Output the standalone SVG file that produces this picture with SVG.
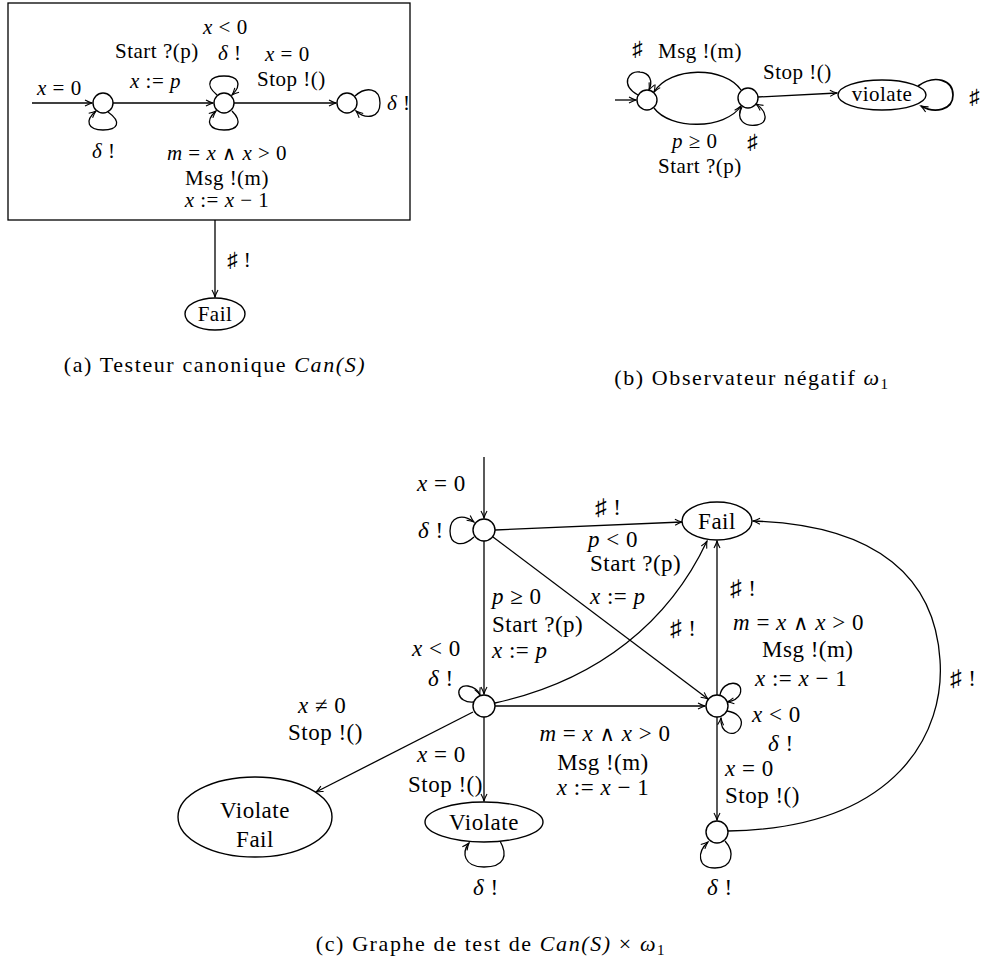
<svg xmlns="http://www.w3.org/2000/svg" width="982" height="960" viewBox="0 0 982 960">
<style>
.t{font-family:"Liberation Serif","DejaVu Serif",serif;font-size:23px;letter-spacing:0.5px;fill:#000}
.s{font-size:21px}
.cap{font-size:22px;letter-spacing:1.6px}
.i{font-style:italic}
.w{font-family:"DejaVu Sans",sans-serif;font-size:0.92em}
.m{text-anchor:middle}
.n{fill:#fff;stroke:#000;stroke-width:1.4}
.e{fill:none;stroke:#000;stroke-width:1.3}
.ea{fill:none;stroke:#000;stroke-width:1.3;marker-end:url(#ah)}
</style>
<defs>
<marker id="ah" viewBox="-8 -4 10 8" refX="0" refY="0" markerWidth="10" markerHeight="8" orient="auto" markerUnits="userSpaceOnUse">
<path d="M-7,-3 Q-3,-0.8 0,0 Q-3,0.8 -7,3" fill="none" stroke="#000" stroke-width="1.1"/>
</marker>
</defs>
<rect x="0" y="0" width="982" height="960" fill="#fff"/>

<!-- (a) -->
<g id="a-box"><rect x="8" y="3" width="402" height="217" class="e"/></g>
<g id="a-connectors">
<path class="ea" d="M32,103 L92,103"/>
<path class="ea" d="M108,112 C122,122 118,130 103,130 C88,130 84,121 96,111"/>
<path class="ea" d="M113,103 L213,103"/>
<path class="ea" d="M217,95 C204,84 210,76 224,76 C238,76 243,84 232,95"/>
<path class="ea" d="M232,111 C243,122 238,130 224,130 C210,130 204,122 216,111"/>
<path class="ea" d="M234,103 L336,103"/>
<path class="ea" d="M355,96 C366,86 380,88 380,103 C380,118 366,120 356,111"/>
<path class="ea" d="M215,220 L215,297"/>
</g>
<g id="a-n1"><circle cx="103" cy="103" r="10" class="n"/></g>
<g id="a-n2"><circle cx="224" cy="103" r="10" class="n"/></g>
<g id="a-n3"><circle cx="347" cy="103" r="10" class="n"/></g>
<g id="a-fail"><ellipse cx="215" cy="314" rx="30" ry="16" class="n"/><text class="t s m" x="215" y="321">Fail</text></g>
<g id="a-labels">
<text class="t s" x="37" y="95"><tspan class="i">x</tspan> = 0</text>
<text class="t s" x="92" y="158"><tspan class="i">δ</tspan> !</text>
<text class="t s" x="115" y="58">Start ?(p)</text>
<text class="t s" x="130" y="88"><tspan class="i">x</tspan> := <tspan class="i">p</tspan></text>
<text class="t s" x="203" y="34"><tspan class="i">x</tspan> &lt; 0</text>
<text class="t s" x="218" y="60"><tspan class="i">δ</tspan> !</text>
<text class="t s" x="265" y="61"><tspan class="i">x</tspan> = 0</text>
<text class="t s" x="257" y="86">Stop !()</text>
<text class="t s" x="387" y="110"><tspan class="i">δ</tspan> !</text>
<text class="t s m" x="227" y="160"><tspan class="i">m</tspan> = <tspan class="i">x</tspan> <tspan class="w">∧</tspan> <tspan class="i">x</tspan> &gt; 0</text>
<text class="t s m" x="227" y="185">Msg !(m)</text>
<text class="t s m" x="227" y="207"><tspan class="i">x</tspan> := <tspan class="i">x</tspan> − 1</text>
<text class="t s" x="227" y="267">♯ !</text>
</g>
<text class="t cap m" x="215" y="372">(a) Testeur canonique <tspan class="i">Can(S)</tspan></text>

<!-- (b) -->
<g id="b-connectors">
<path class="ea" d="M615,100 L636,100"/>
<path class="ea" d="M741,90 C725,66 670,66 654,92"/>
<path class="ea" d="M654,108 C670,130 725,130 741,106"/>
<path class="ea" d="M638,95 C620,85 628,70 640,72 C650,73 653,81 649,90"/>
<path class="ea" d="M742,107 C735,120 745,127 757,125 C768,123 768,112 756,104"/>
<path class="ea" d="M758,97 L837,93"/>
<path class="ea" style="stroke-width:1.7" d="M918,86 C935,74 953,80 953,95 C953,110 935,114 921,106"/>
</g>
<g id="b-n1"><circle cx="647" cy="100" r="10" class="n"/></g>
<g id="b-n2"><circle cx="748" cy="98" r="10" class="n"/></g>
<g id="b-violate"><ellipse cx="882" cy="95" rx="44" ry="15" class="n"/><text class="t s m" x="882" y="101">violate</text></g>
<g id="b-labels">
<text class="t s" x="632" y="56">♯</text>
<text class="t s" x="658" y="58">Msg !(m)</text>
<text class="t s" x="763" y="79">Stop !()</text>
<text class="t s" x="969" y="104">♯</text>
<text class="t s" x="672" y="148"><tspan class="i">p</tspan> ≥ 0</text>
<text class="t s" x="747" y="149">♯</text>
<text class="t s" x="658" y="173">Start ?(p)</text>
</g>
<text class="t cap m" x="752" y="385">(b) Observateur négatif <tspan class="i">ω</tspan><tspan font-size="15" dy="4">1</tspan></text>

<!-- (c) -->
<g id="c-connectors">
<path class="ea" d="M484,457 L484,518"/>
<path class="ea" d="M474,537 C462,548 450,545 450,531 C450,517 462,513 474,522"/>
<path class="ea" d="M495,530 L682,522"/>
<path class="ea" d="M484,541 L484,694"/>
<path class="ea" d="M493,537 L708,699"/>
<path class="ea" d="M474,702 C456,704 454,684 468,686 C474,687 478,690 480,695"/>
<path class="ea" d="M495,703 C600,680 670,620 707,541"/>
<path class="ea" d="M473,712 L316,792"/>
<path class="ea" d="M484,717 L484,801"/>
<path class="ea" d="M495,706 L705,706"/>
<path class="ea" d="M500,841 C508,855 505,867 484,867 C463,867 462,852 469,843"/>
<path class="ea" d="M720,695 C723,679 745,680 740,694 C738,699 733,701 727,702"/>
<path class="ea" d="M727,711 C735,712 745,718 740,728 C735,738 720,734 721,718"/>
<path class="ea" d="M717,695 L717,541"/>
<path class="ea" d="M717,717 L717,820"/>
<path class="ea" d="M725,841 C735,852 733,868 715,868 C697,868 697,852 708,842"/>
<path class="ea" d="M728,831 C900,828 945,730 940,660 C935,580 880,525 753,521"/>
</g>
<g id="c-n0"><circle cx="484" cy="530" r="11" class="n"/></g>
<g id="c-n1"><circle cx="484" cy="706" r="11" class="n"/></g>
<g id="c-n2"><circle cx="717" cy="706" r="11" class="n"/></g>
<g id="c-n3"><circle cx="717" cy="832" r="11" class="n"/></g>
<g id="c-fail"><ellipse cx="717" cy="521" rx="35" ry="19" class="n"/><text class="t m" x="717" y="529">Fail</text></g>
<g id="c-violate"><ellipse cx="484" cy="822" rx="59" ry="20" class="n"/><text class="t m" x="484" y="830">Violate</text></g>
<g id="c-violatefail"><ellipse cx="255" cy="817" rx="77" ry="40" class="n"/><text class="t m" x="255" y="818">Violate</text><text class="t m" x="255" y="847">Fail</text></g>
<g id="c-labels">
<text class="t" x="417" y="491"><tspan class="i">x</tspan> = 0</text>
<text class="t" x="418" y="538"><tspan class="i">δ</tspan> !</text>
<text class="t" x="595" y="515">♯ !</text>
<text class="t" x="588" y="547"><tspan class="i">p</tspan> &lt; 0</text>
<text class="t" x="590" y="571">Start ?(p)</text>
<text class="t" x="590" y="604"><tspan class="i">x</tspan> := <tspan class="i">p</tspan></text>
<text class="t" x="492" y="604"><tspan class="i">p</tspan> ≥ 0</text>
<text class="t" x="492" y="632">Start ?(p)</text>
<text class="t" x="492" y="658"><tspan class="i">x</tspan> := <tspan class="i">p</tspan></text>
<text class="t" x="412" y="656"><tspan class="i">x</tspan> &lt; 0</text>
<text class="t" x="428" y="686"><tspan class="i">δ</tspan> !</text>
<text class="t" x="670" y="636">♯ !</text>
<text class="t" x="730" y="596">♯ !</text>
<text class="t" x="733" y="630"><tspan class="i">m</tspan> = <tspan class="i">x</tspan> <tspan class="w">∧</tspan> <tspan class="i">x</tspan> &gt; 0</text>
<text class="t" x="762" y="657">Msg !(m)</text>
<text class="t" x="755" y="686"><tspan class="i">x</tspan> := <tspan class="i">x</tspan> − 1</text>
<text class="t" x="752" y="722"><tspan class="i">x</tspan> &lt; 0</text>
<text class="t" x="768" y="751"><tspan class="i">δ</tspan> !</text>
<text class="t" x="725" y="776"><tspan class="i">x</tspan> = 0</text>
<text class="t" x="725" y="803">Stop !()</text>
<text class="t" x="950" y="686">♯ !</text>
<text class="t" x="298" y="713"><tspan class="i">x</tspan> ≠ 0</text>
<text class="t" x="288" y="740">Stop !()</text>
<text class="t" x="417" y="762"><tspan class="i">x</tspan> = 0</text>
<text class="t" x="408" y="792">Stop !()</text>
<text class="t m" x="605" y="741"><tspan class="i">m</tspan> = <tspan class="i">x</tspan> <tspan class="w">∧</tspan> <tspan class="i">x</tspan> &gt; 0</text>
<text class="t m" x="603" y="770">Msg !(m)</text>
<text class="t m" x="603" y="795"><tspan class="i">x</tspan> := <tspan class="i">x</tspan> − 1</text>
<text class="t" x="473" y="895"><tspan class="i">δ</tspan> !</text>
<text class="t" x="707" y="895"><tspan class="i">δ</tspan> !</text>
</g>
<text class="t cap m" x="491" y="951">(c) Graphe de test de <tspan class="i">Can(S)</tspan> × <tspan class="i">ω</tspan><tspan font-size="15" dy="4">1</tspan></text>
</svg>
